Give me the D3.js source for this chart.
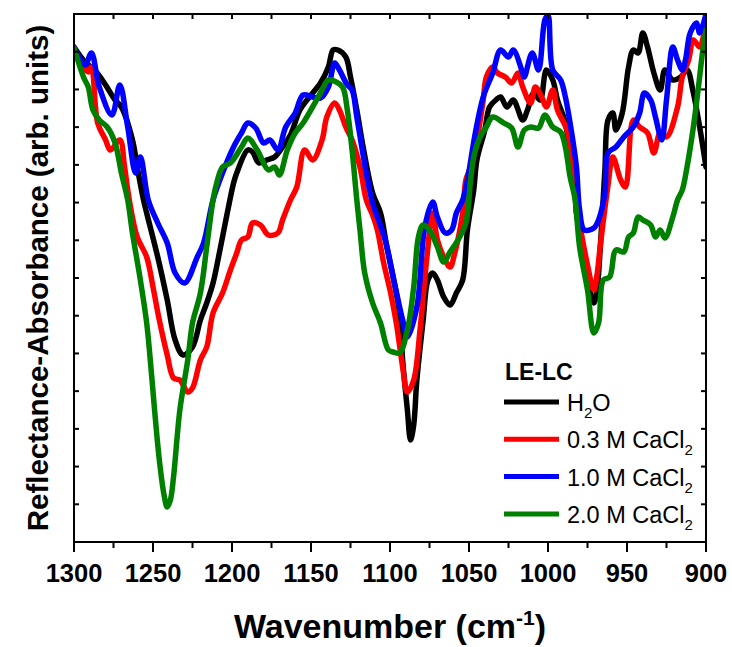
<!DOCTYPE html>
<html>
<head>
<meta charset="utf-8">
<script src="https://cdn.jsdelivr.net/npm/d3@7/dist/d3.min.js"></script>
<style>
  body { margin: 0; background: #fff; }
  text { font-family: "Liberation Sans", Arial, sans-serif; }
</style>
</head>
<body>
<div id="chart"></div>
<script>
var w = 732, h = 647;
var margin = {left: 74, right: 26, top: 14, bottom: 105};

// spectra: [wavenumber (cm-1), reflectance-absorbance (arb. units)]
var h2o = [
  [1300,9.90],[1293,9.60],[1287,9.44],[1280,9.14],[1274,8.84],[1270,8.70],[1263,8.04],[1260,7.50],
  [1256,6.84],[1254,6.58],[1247,5.70],[1241,4.84],[1236,4.04],[1231,3.74],[1225,3.90],[1220,4.44],
  [1216,4.78],[1212,5.18],[1208,5.78],[1203,6.58],[1199,7.18],[1197,7.38],[1190,7.84],[1187,7.80],
  [1183,7.58],[1178,7.64],[1173,7.70],[1168,7.90],[1163,8.14],[1157,8.64],[1151,8.90],[1144,9.18],
  [1139,9.50],[1136,9.84],[1133,9.84],[1128,9.70],[1125,9.30],[1121,8.64],[1117,7.90],[1111,6.98],
  [1106,6.58],[1102,5.90],[1098,5.30],[1094,4.58],[1092,3.64],[1089,2.64],[1087,2.04],[1085,2.34],
  [1083,3.24],[1079,4.44],[1076,5.24],[1073,5.38],[1070,5.24],[1066,4.90],[1062,4.74],[1058,4.98],
  [1054,5.24],[1051,6.24],[1047,7.04],[1045,7.64],[1040,8.24],[1037,8.70],[1033,8.84],[1030,8.90],
  [1026,8.70],[1022,8.84],[1016,8.44],[1013,8.64],[1009,8.98],[1005,8.84],[1001,9.44],[997,9.24],
  [994,8.84],[989,8.38],[986,7.70],[983,7.10],[982,6.58],[978,5.90],[975,5.24],[971,4.78],
  [969,5.04],[967,5.84],[964,7.44],[962,8.44],[959,8.58],[957,8.24],[953,8.58],[949,9.50],
  [946,9.84],[943,9.78],[940,10.18],[937,9.90],[933,9.38],[929,9.04],[926,9.44],[921,9.24],
  [916,9.30],[912,9.44],[908,8.98],[904,8.30],[900,7.50]
];

var cacl03 = [
  [1300,9.88],[1294,9.50],[1291,9.40],[1289,9.50],[1285,8.38],[1280,8.04],[1277,7.84],[1271,8.04],
  [1268,7.50],[1265,6.84],[1260,6.10],[1254,5.70],[1250,5.10],[1246,4.44],[1241,3.74],[1237,3.28],
  [1233,3.24],[1228,3.00],[1225,3.08],[1220,3.64],[1216,3.90],[1212,4.58],[1206,4.98],[1201,5.44],
  [1197,5.78],[1194,6.04],[1190,6.10],[1187,6.38],[1182,6.34],[1177,6.14],[1171,6.18],[1168,6.44],
  [1163,6.84],[1159,7.10],[1154,7.84],[1149,7.64],[1143,8.04],[1140,8.50],[1135,8.78],[1132,8.64],
  [1128,8.30],[1124,8.04],[1119,7.50],[1115,6.84],[1111,6.54],[1108,6.24],[1104,5.58],[1100,5.04],
  [1096,4.38],[1092,3.50],[1089,3.00],[1085,3.24],[1081,4.24],[1077,5.58],[1073,6.58],[1070,6.04],
  [1066,5.70],[1062,5.50],[1059,5.78],[1054,6.58],[1052,7.24],[1049,7.50],[1045,8.04],[1041,8.84],
  [1039,9.30],[1035,9.50],[1032,9.38],[1027,9.30],[1023,9.18],[1019,9.38],[1016,9.10],[1011,8.78],
  [1008,9.10],[1004,8.90],[1001,8.70],[997,9.04],[994,8.64],[988,8.24],[984,7.50],[982,6.84],
  [980,6.38],[975,5.54],[971,5.04],[969,5.34],[967,5.90],[962,7.14],[959,7.70],[954,7.24],
  [951,7.10],[946,8.44],[942,8.30],[937,8.18],[933,7.78],[929,8.18],[925,8.10],[918,8.70],
  [915,9.30],[911,9.64],[908,10.04],[904,9.90],[900,10.44]
];

var cacl10 = [
  [1300,9.90],[1293,9.54],[1289,9.78],[1284,9.10],[1276,8.54],[1271,9.14],[1266,8.30],[1261,7.38],
  [1258,7.70],[1253,6.84],[1247,6.38],[1241,5.98],[1236,5.38],[1230,5.18],[1222,5.70],[1218,5.98],
  [1212,6.84],[1206,7.38],[1199,7.90],[1194,8.18],[1190,8.38],[1185,8.28],[1180,7.98],[1176,8.04],
  [1171,7.84],[1166,8.30],[1160,8.58],[1155,8.94],[1149,8.90],[1144,8.88],[1139,9.10],[1135,9.58],
  [1132,9.44],[1127,9.14],[1124,9.04],[1121,8.50],[1115,7.38],[1111,6.78],[1103,6.04],[1098,5.30],
  [1092,4.44],[1089,4.10],[1083,4.70],[1078,6.30],[1073,6.80],[1070,6.50],[1065,6.18],[1061,6.24],
  [1058,6.58],[1054,6.84],[1051,7.24],[1046,8.18],[1041,8.90],[1035,9.38],[1030,9.84],[1025,9.70],
  [1022,9.84],[1016,9.38],[1015,9.30],[1010,9.78],[1006,9.44],[1002,10.44],[1000,10.54],[997,9.44],
  [992,9.24],[989,8.90],[985,8.18],[982,7.50],[980,6.64],[977,6.24],[971,6.28],[968,6.44],
  [964,6.98],[962,7.78],[957,7.90],[952,8.10],[946,8.30],[942,8.58],[939,8.98],[935,8.84],
  [932,8.50],[928,8.04],[925,8.84],[921,9.90],[918,9.64],[915,9.44],[913,9.64],[910,10.18],
  [906,10.38],[904,10.18],[900,10.56]
];

var cacl20 = [
  [1300,9.88],[1294,9.30],[1291,9.10],[1288,8.64],[1284,8.44],[1279,8.30],[1274,7.98],[1270,7.38],
  [1266,6.84],[1263,6.18],[1258,5.24],[1254,4.38],[1251,3.38],[1249,2.64],[1246,1.64],[1243,0.94],
  [1241,0.70],[1239,0.84],[1237,1.30],[1233,2.64],[1228,3.64],[1225,4.38],[1220,4.98],[1216,5.90],
  [1212,6.84],[1210,7.14],[1206,7.50],[1201,7.58],[1194,7.90],[1190,8.08],[1184,7.84],[1177,7.44],
  [1173,7.50],[1170,7.34],[1165,7.84],[1160,8.18],[1155,8.38],[1149,8.70],[1144,8.98],[1139,9.24],
  [1134,9.20],[1130,9.10],[1127,8.64],[1124,7.84],[1121,6.84],[1119,6.24],[1116,5.38],[1111,4.78],
  [1106,4.38],[1101,3.84],[1098,3.80],[1094,3.78],[1089,4.24],[1085,5.10],[1082,6.10],[1079,6.34],
  [1075,6.24],[1070,5.90],[1066,5.60],[1062,5.80],[1057,6.04],[1052,6.38],[1049,7.24],[1047,7.70],
  [1043,8.10],[1039,8.30],[1035,8.50],[1028,8.38],[1023,8.28],[1019,7.90],[1015,8.24],[1011,8.30],
  [1006,8.28],[1002,8.54],[997,8.30],[992,8.20],[989,7.90],[986,7.30],[983,6.88],[980,5.90],
  [975,5.04],[971,4.18],[968,4.38],[965,5.24],[961,5.30],[957,5.84],[952,5.80],[949,6.10],
  [946,6.18],[943,6.50],[940,6.44],[935,6.34],[932,6.10],[929,6.24],[926,6.08],[921,6.50],
  [918,6.84],[915,7.04],[912,7.50],[908,8.30],[905,9.04],[902,9.84],[900,10.24]
];

var seriesData = [h2o, cacl03, cacl10, cacl20];
var seriesColors = ["#000000", "#ff0000", "#0000ff", "#008000"];
var xTicks = [1300, 1250, 1200, 1150, 1100, 1050, 1000, 950, 900];

var svg = d3.select("#chart").append("svg")
  .attr("width", w)
  .attr("height", h);

var x = d3.scaleLinear()
  .domain([1300, 900])
  .range([margin.left, w - margin.right]);

var y = d3.scaleLinear()
  .domain([0, 10.56])
  .range([h - margin.bottom, margin.top]);

var x0 = x.range()[0], x1 = x.range()[1];
var y0 = y.range()[0], y1 = y.range()[1];

svg.append("clipPath").attr("id", "plotclip")
  .append("rect")
  .attr("x", x0).attr("y", y1)
  .attr("width", x1 - x0).attr("height", y0 - y1);

// the four spectra, H2O first so green ends up on top
var line = d3.line()
  .x(function(d) { return x(d[0]); })
  .y(function(d) { return y(d[1]); })
  .curve(d3.curveCatmullRom.alpha(0.5));

svg.append("g").attr("clip-path", "url(#plotclip)")
  .selectAll("path")
  .data(seriesData).enter()
  .append("path")
  .attr("d", line)
  .attr("fill", "none")
  .attr("stroke", function(d, i) { return seriesColors[i]; })
  .attr("stroke-width", 5.5)
  .attr("stroke-linejoin", "round")
  .attr("stroke-linecap", "round");

// bottom axis: labelled every 50, minor ticks every 25
var bottom = svg.append("g").attr("transform", "translate(0," + y0 + ")");
bottom.selectAll("line")
  .data(d3.range(1300, 899, -25)).enter()
  .append("line")
  .attr("x1", function(d) { return x(d); })
  .attr("x2", function(d) { return x(d); })
  .attr("y1", 0)
  .attr("y2", function(d) { return d % 50 == 0 ? 10 : 6; })
  .attr("stroke", "#000")
  .attr("stroke-width", 2);
bottom.selectAll("text")
  .data(xTicks).enter()
  .append("text")
  .attr("x", function(d) { return x(d); })
  .attr("y", 40)
  .attr("text-anchor", "middle")
  .attr("font-size", 25.5)
  .attr("font-weight", "bold")
  .text(function(d) { return d; });

// top axis, small inward ticks
svg.append("g").selectAll("line")
  .data(d3.range(1300, 899, -25)).enter()
  .append("line")
  .attr("x1", function(d) { return x(d); })
  .attr("x2", function(d) { return x(d); })
  .attr("y1", y1).attr("y2", y1 + 5)
  .attr("stroke", "#000").attr("stroke-width", 2);

// left and right: unlabelled ticks
var yTicks = d3.range(0, 15).map(function(k) { return k * 10.56 / 14; });
svg.append("g").selectAll("line")
  .data(yTicks).enter()
  .append("line")
  .attr("x1", x0).attr("x2", x0 + 5)
  .attr("y1", function(d) { return y(d); })
  .attr("y2", function(d) { return y(d); })
  .attr("stroke", "#000").attr("stroke-width", 2);
svg.append("g").selectAll("line")
  .data(yTicks).enter()
  .append("line")
  .attr("x1", x1 - 5).attr("x2", x1)
  .attr("y1", function(d) { return y(d); })
  .attr("y2", function(d) { return y(d); })
  .attr("stroke", "#000").attr("stroke-width", 2);

// frame
svg.append("rect")
  .attr("x", x0).attr("y", y1)
  .attr("width", x1 - x0).attr("height", y0 - y1)
  .attr("fill", "none")
  .attr("stroke", "#000")
  .attr("stroke-width", 2);

// axis titles
var xt = svg.append("text")
  .attr("x", (x0 + x1) / 2)
  .attr("y", 638)
  .attr("text-anchor", "middle")
  .attr("font-size", 34)
  .attr("font-weight", "bold");
xt.append("tspan").text("Wavenumber (cm");
xt.append("tspan").attr("dy", -13).attr("font-size", 21).text("-1");
xt.append("tspan").attr("dy", 13).text(")");

svg.append("text")
  .attr("transform", "translate(48," + ((y0 + y1) / 2) + ") rotate(-90)")
  .attr("text-anchor", "middle")
  .attr("font-size", 29.5)
  .attr("font-weight", "bold")
  .text("Reflectance-Absorbance (arb. units)");

// legend
var legendTitle = "LE-LC";
var legendLabels = [["H", "2", "O"], ["0.3 M CaCl", "2", ""], ["1.0 M CaCl", "2", ""], ["2.0 M CaCl", "2", ""]];

svg.append("text")
  .attr("x", 505).attr("y", 380)
  .attr("font-size", 23)
  .attr("font-weight", "bold")
  .text(legendTitle);

var legend = svg.append("g").selectAll("g")
  .data(legendLabels).enter()
  .append("g")
  .attr("transform", function(d, i) { return "translate(504," + (402 + i * 37.3) + ")"; });

legend.append("line")
  .attr("x1", 0).attr("x2", 55)
  .attr("stroke", function(d, i) { return seriesColors[i]; })
  .attr("stroke-width", 5);

var lt = legend.append("text")
  .attr("x", 63).attr("y", 9)
  .attr("font-size", 23.5);
lt.append("tspan").text(function(d) { return d[0]; });
lt.append("tspan").attr("dy", 7).attr("font-size", 15).text(function(d) { return d[1]; });
lt.append("tspan").attr("dy", -7).text(function(d) { return d[2]; });
</script>
</body>
</html>
